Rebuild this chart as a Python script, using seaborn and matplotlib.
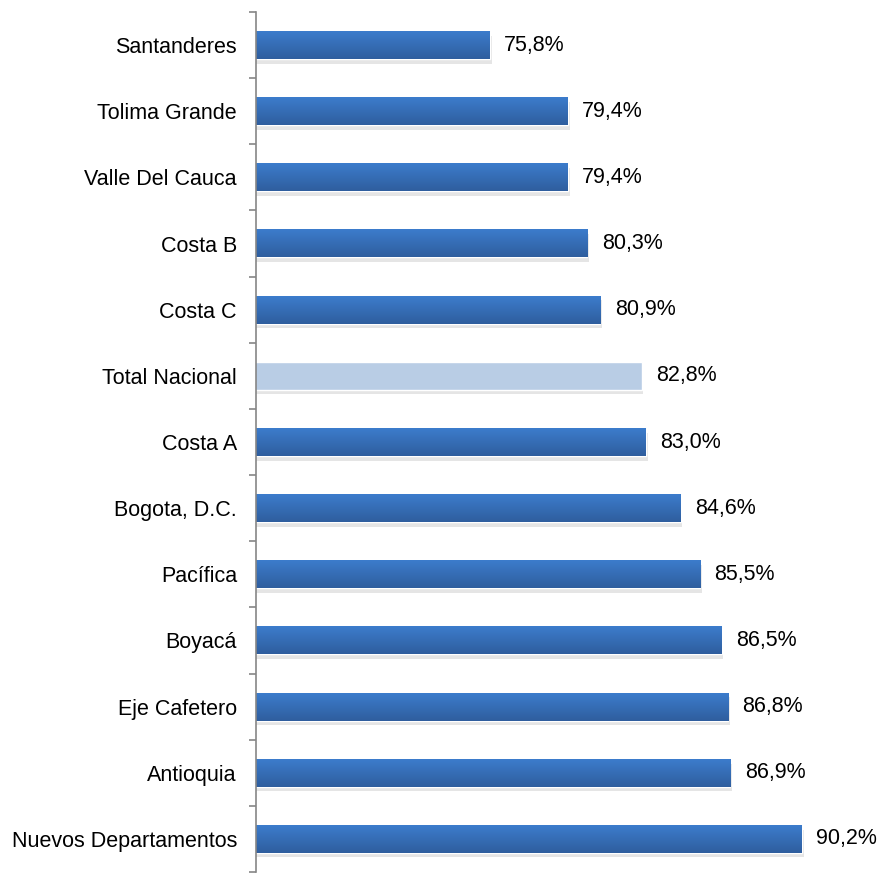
import seaborn as sns
import matplotlib.pyplot as plt
import matplotlib
import numpy as np
import pandas as pd

regions = ["Santanderes", "Tolima Grande", "Valle Del Cauca", "Costa B", "Costa C",
           "Total Nacional", "Costa A", "Bogota, D.C.", "Pacífica", "Boyacá",
           "Eje Cafetero", "Antioquia", "Nuevos Departamentos"]
values = [75.8, 79.4, 79.4, 80.3, 80.9, 82.8, 83.0, 84.6, 85.5, 86.5, 86.8, 86.9, 90.2]
labels = ["75,8%", "79,4%", "79,4%", "80,3%", "80,9%", "82,8%", "83,0%", "84,6%",
          "85,5%", "86,5%", "86,8%", "86,9%", "90,2%"]


def build_a_graph(df):
    sns.set_style("white")
    matplotlib.rcParams['font.family'] = ['Liberation Sans', 'DejaVu Sans']
    fig = plt.figure(figsize=(8.79, 8.75), dpi=100)
    ax = fig.add_axes([0.2912, 0.0034, 0.69, 0.9829])
    colors = ["#B9CDE5" if r == "Total Nacional" else "#3A70BA" for r in df['region']]
    sns.barplot(data=df, y='region', x='value', hue='region', palette=colors,
                width=0.42, legend=False, ax=ax, orient='h', saturation=1)
    xmin = 65
    ax.set_xlim(xmin, 93)
    ax.set_ylim(len(df) - 0.5, -0.5)

    # gradient + shadow on the bars, Excel style
    grad = np.linspace(0, 1, 64).reshape(-1, 1)
    cmap = matplotlib.colors.LinearSegmentedColormap.from_list("g", ["#3C7CCC", "#2F5E9E"])
    for p, r in zip(list(ax.patches), df['region']):
        x0, y0 = p.get_x(), p.get_y()
        w, h = p.get_width(), p.get_height()
        x1 = x0 + w
        x0 = max(x0, xmin)
        sh = matplotlib.patches.Rectangle((x0, y0 + 0.07), x1 - x0 + 0.08, h, color="#000000",
                                          alpha=0.10, zorder=p.get_zorder() - 0.5, lw=0)
        ax.add_patch(sh)
        if r != "Total Nacional":
            im = ax.imshow(grad, extent=(x0, x1, y0 + h, y0), aspect='auto',
                           cmap=cmap, zorder=p.get_zorder() + 0.1)
    ax.set_xlim(xmin, 93)
    ax.set_ylim(len(df) - 0.5, -0.5)

    for i, (v, t) in enumerate(zip(df['value'], df['label'])):
        ax.text(v + 0.66, i, t, va='center', ha='left', fontsize=15.5, color="#000000")

    ax.set_yticks(np.arange(len(df) + 1) - 0.5)
    ax.set_yticklabels([])
    ax.set_yticks(np.arange(len(df)), minor=True)
    ax.set_yticklabels(df['region'], minor=True, fontsize=15.5)
    ax.tick_params(axis='y', which='major', left=True, length=5, width=1.2, color="#868686")
    ax.tick_params(axis='y', which='minor', left=False, length=0, pad=13.7, labelcolor="#000000")
    ax.set_xticks([])
    ax.set_xlabel('')
    ax.set_ylabel('')
    for s in ['top', 'right', 'bottom']:
        ax.spines[s].set_visible(False)
    ax.spines['left'].set_color("#868686")
    ax.spines['left'].set_linewidth(1.2)
    plt.savefig('out.png', dpi=100)


df = pd.DataFrame({'region': regions, 'value': values, 'label': labels})
build_a_graph(df)
